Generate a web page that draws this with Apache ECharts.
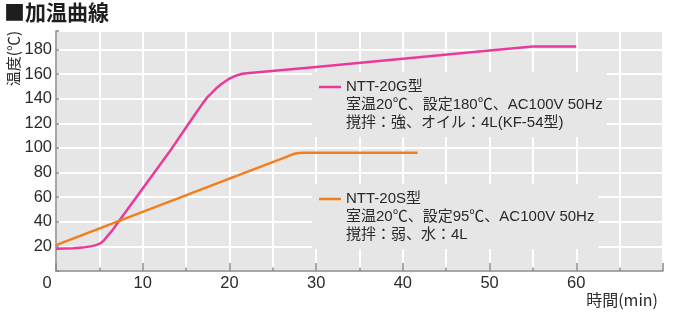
<!DOCTYPE html>
<html><head><meta charset="utf-8">
<script src="https://cdn.jsdelivr.net/npm/echarts@6/dist/echarts.min.js"></script>
<style>html,body{margin:0;padding:0;background:#fff}#c{width:680px;height:320px}</style>
</head><body><div id="c"></div>
<script>
// ---- data ----
const chartTitle = '■加温曲線';
const yAxisName = '温度(℃)';
const xAxisName = '時間(min)';
const xTickLabels = [0, 10, 20, 30, 40, 50, 60];
const yTickLabels = [20, 40, 60, 80, 100, 120, 140, 160, 180];
const seriesNames = ['NTT-20G型', 'NTT-20S型'];
const g20Time = [0, 1, 2, 3, 4, 4.5, 5, 5.5, 6, 6.5, 7, 10, 13, 16, 17, 17.5, 18, 18.5, 19, 19.5, 20, 20.5, 21, 21.5, 22, 30, 40, 50, 55, 60];
const g20Temp = [18, 18.2, 18.5, 19, 20, 20.8, 22, 24.5, 29, 33, 38, 67, 96, 127, 137, 141.5, 145, 148.5, 151.5, 154, 156.3, 158, 159.3, 160.2, 160.6, 165.7, 172.4, 179.1, 182.5, 182.5];
const s20Time = [0, 10, 20, 26.5, 27, 27.5, 28, 28.5, 41.7];
const s20Temp = [21, 48, 75, 92.5, 94, 95.3, 95.9, 96, 96];
const g20Notes = ['室温20℃、設定180℃、AC100V 50Hz', '撹拌：強、オイル：4L(KF-54型)'];
const s20Notes = ['室温20℃、設定95℃、AC100V 50Hz', '撹拌：弱、水：4L'];

// ---- styles ----
const PINK = '#e93a9b';
const ORANGE = '#f07f1f';
const FONT = "'Liberation Sans', 'Noto Sans CJK JP', sans-serif";
const CJK = "'Noto Sans CJK JP', sans-serif";
const TXT = '#2a2a2a';
const AXIS = '#8a8a8a';

const zip = (a, b) => a.map((v, i) => [v, b[i]]);
const notes = {};
notes[seriesNames[0]] = g20Notes;
notes[seriesNames[1]] = s20Notes;

function legendRich(color) {
  return {
    m: { width: 22, height: 2.5, backgroundColor: color, lineHeight: 18 },
    h: { fontFamily: FONT, fontSize: 15, lineHeight: 18, color: TXT, padding: [0, 0, 0, 5] },
    b: { fontFamily: FONT, fontSize: 15, lineHeight: 18, color: TXT, padding: [0, 0, 0, 27] }
  };
}
function legendFormatter(name) {
  return '{m| }{h|' + name + '}\n' + notes[name].map(t => '{b|' + t + '}').join('\n');
}
function makeLegend(name, color, top) {
  return {
    data: [name], left: 312, top: top, orient: 'vertical',
    itemWidth: 0, itemHeight: 0, selectedMode: false,
    backgroundColor: '#e6e6e6', padding: [6, 4, 5, 1],
    formatter: legendFormatter,
    textStyle: { fontFamily: FONT, fontSize: 15, lineHeight: 18, color: TXT, rich: legendRich(color) }
  };
}

const chart = echarts.init(document.getElementById('c'), null, { renderer: 'canvas' });
chart.setOption({
  animation: false,
  graphic: [
    { type: 'text', left: 4, top: 2, style: { text: chartTitle, font: 'bold 21px ' + CJK, fill: '#1e1e1e' } },
    { type: 'text', x: 13, y: 31, rotation: Math.PI / 2,
      style: { text: yAxisName, font: '15px ' + CJK, fill: TXT, align: 'right', verticalAlign: 'middle' } }
  ],
  grid: { left: 56, right: 17, top: 31, bottom: 49, show: true, backgroundColor: '#e6e6e6', borderWidth: 0, outerBoundsMode: 'none' },
  legend: [makeLegend(seriesNames[0], PINK, 72), makeLegend(seriesNames[1], ORANGE, 184)],
  xAxis: {
    type: 'value', min: 0, max: 70, interval: 10,
    name: xAxisName, nameLocation: 'end', nameGap: -5,
    nameTextStyle: { fontFamily: CJK, fontSize: 16, color: TXT, align: 'right', verticalAlign: 'top', padding: [21, 0, 0, 0] },
    axisLine: { lineStyle: { color: AXIS, width: 1.5 } },
    axisTick: { inside: true, length: 8, lineStyle: { color: AXIS, width: 1.5 } },
    minorTick: { show: true, splitNumber: 2, length: 3.5, lineStyle: { color: AXIS, width: 1.5 } },
    splitLine: { show: true, lineStyle: { color: '#ffffff', width: 2 } },
    minorSplitLine: { show: true, lineStyle: { color: '#ffffff', width: 2 } },
    axisLabel: {
      margin: 4, fontFamily: FONT, fontSize: 16.5, color: TXT,
      formatter: v => v === 0 ? '{z|0}' : (xTickLabels.includes(v) ? String(v) : ''),
      rich: { z: { fontFamily: FONT, fontSize: 16.5, color: TXT, padding: [0, 18, 0, 0] } }
    }
  },
  yAxis: {
    type: 'value', min: 0, max: 195, interval: 20,
    axisLine: { show: true, lineStyle: { color: AXIS, width: 1.5 } },
    axisTick: { show: true, inside: true, length: 3, lineStyle: { color: AXIS, width: 1.5 } },
    splitLine: { show: true, lineStyle: { color: '#ffffff', width: 2 } },
    axisLabel: {
      margin: 4, fontFamily: FONT, fontSize: 16.5, color: TXT,
      formatter: v => yTickLabels.includes(v) ? String(v) : ''
    }
  },
  series: [
    { name: seriesNames[0], type: 'line', data: zip(g20Time, g20Temp), showSymbol: false, symbol: 'none',
      smooth: false, lineStyle: { color: PINK, width: 2.5, join: 'round' }, itemStyle: { color: PINK } },
    { name: seriesNames[1], type: 'line', data: zip(s20Time, s20Temp), showSymbol: false, symbol: 'none',
      smooth: false, lineStyle: { color: ORANGE, width: 2.5, join: 'round' }, itemStyle: { color: ORANGE } }
  ]
});
</script></body></html>
